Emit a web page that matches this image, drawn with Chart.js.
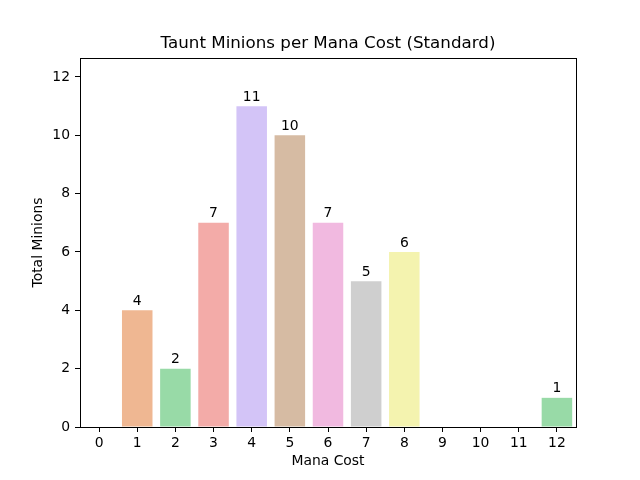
<!DOCTYPE html>
<html>
<head>
<meta charset="utf-8">
<script src="https://cdn.jsdelivr.net/npm/chart.js@4.4.1/dist/chart.umd.min.js"></script>
<style>
  html, body { margin: 0; padding: 0; background: #fff; }
</style>
</head>
<body>
<canvas id="taunt_chart" width="640" height="480"></canvas>
<script>
var manaCost = ['0', '1', '2', '3', '4', '5', '6', '7', '8', '9', '10', '11', '12'];
var totalMinions = [0, 4, 2, 7, 11, 10, 7, 5, 6, 0, 0, 0, 1];
var yTicks = [0, 2, 4, 6, 8, 10, 12];
var chartTitle = 'Taunt Minions per Mana Cost (Standard)';
// seaborn pastel, desaturated
var palette = ['#abc9ea', '#efb792', '#98daa7', '#f3aba8', '#d3c4f7',
               '#d6bba3', '#f1b9e0', '#cfcfcf', '#f4f3af', '#c0ebe9'];

var barColors = manaCost.map(function(c, i) { return palette[i % palette.length]; });
var font = "'DejaVu Sans', sans-serif";

// title over the axes, value labels, top/right spines
var extras = {
	id: 'extras',
	afterDatasetsDraw: function(chart) {
		var ctx = chart.ctx;
		var a = chart.chartArea;
		var meta = chart.getDatasetMeta(0);
		ctx.save();
		ctx.fillStyle = '#000';
		ctx.textAlign = 'center';

		ctx.font = '16.7px ' + font;
		ctx.textBaseline = 'bottom';
		ctx.fillText(chartTitle, (a.left + a.right) / 2, a.top - 6);

		ctx.font = '13.9px ' + font;
		meta.data.forEach(function(bar, i) {
			if (totalMinions[i] === 0) return;
			ctx.fillText(String(totalMinions[i]), bar.x, bar.y - 2);
		});

		ctx.strokeStyle = '#000';
		ctx.lineWidth = 1;
		ctx.strokeRect(Math.round(a.left) + 0.5, Math.round(a.top) + 0.5,
			Math.round(a.right - a.left), Math.round(a.bottom - a.top));
		ctx.restore();
	}
};

new Chart(document.getElementById('taunt_chart'), {
	type: 'bar',
	data: {
		labels: manaCost,
		datasets: [{
			data: totalMinions,
			backgroundColor: barColors,
			borderWidth: 0,
			categoryPercentage: 0.8,
			barPercentage: 1.0
		}]
	},
	options: {
		responsive: false,
		animation: false,
		devicePixelRatio: 1,
		layout: { padding: { left: 0, right: 64, top: 58, bottom: 0 } },
		plugins: {
			legend: { display: false },
			tooltip: { enabled: false },
			title: { display: false }
		},
		scales: {
			x: {
				offset: true,
				grid: { display: true, offset: false, drawOnChartArea: false, drawTicks: true, tickLength: 5, color: '#000' },
				border: { display: true, color: '#000' },
				ticks: { color: '#000', font: { family: font, size: 13.9 }, padding: 3, maxRotation: 0, autoSkip: false },
				title: { display: true, text: 'Mana Cost', color: '#000', font: { family: font, size: 13.9 }, padding: { bottom: 10 } },
				afterFit: function(scale) { scale.height = 53; }
			},
			y: {
				min: 0,
				max: 12.65,
				afterBuildTicks: function(scale) {
					scale.ticks = yTicks.map(function(v) { return { value: v }; });
				},
				grid: { display: true, drawOnChartArea: false, drawTicks: true, tickLength: 5, color: '#000' },
				border: { display: true, color: '#000' },
				ticks: { color: '#000', font: { family: font, size: 13.9 }, padding: 5 },
				title: { display: true, text: 'Total Minions', color: '#000', font: { family: font, size: 13.9 }, padding: { top: 30 } },
				afterFit: function(scale) { scale.width = 80; }
			}
		}
	},
	plugins: [extras]
});
</script>
</body>
</html>
